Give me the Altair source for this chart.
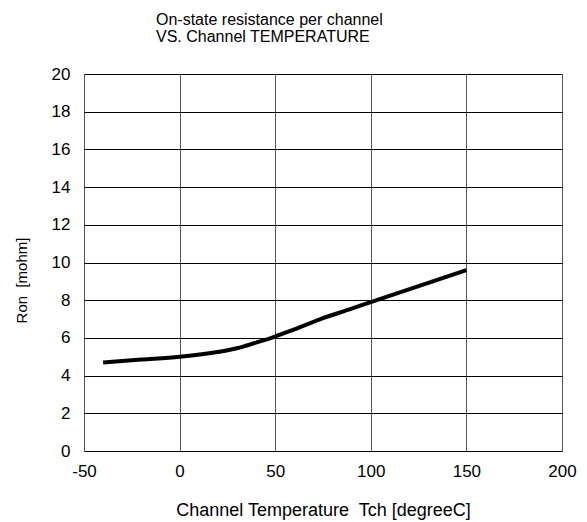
import altair as alt
import pandas as pd

temps = [-40, -20, 0, 20, 30, 40, 50, 60, 75, 90, 100, 125, 150]
ron = [4.70, 4.85, 5.00, 5.25, 5.45, 5.75, 6.07, 6.45, 7.05, 7.55, 7.90, 8.75, 9.60]

df = pd.DataFrame({"Tch": temps, "Ron": ron})

FONT = "Liberation Sans"

chart = alt.Chart(df).mark_line(
    color="black", strokeWidth=4, interpolate="monotone"
).encode(
    x=alt.X("Tch:Q",
            scale=alt.Scale(domain=[-50, 200], nice=False, zero=False),
            axis=alt.Axis(values=[-50, 0, 50, 100, 150, 200],
                          title="Channel Temperature\u00a0 Tch [degreeC]",
                          labelExpr="'' + datum.value", labelFlush=False,
                          grid=True, gridColor="#555555", gridWidth=1, gridOpacity=1,
                          ticks=False, domain=False, labelPadding=12,
                          labelFont=FONT, labelFontSize=17, labelColor="black",
                          titleFont=FONT, titleFontSize=18, titleFontWeight="normal",
                          titleColor="black", titlePadding=22)),
    y=alt.Y("Ron:Q",
            scale=alt.Scale(domain=[0, 20], nice=False, zero=False),
            axis=alt.Axis(values=list(range(0, 21, 2)), title="Ron\u00a0 [mohm]",
                          labelExpr="'' + datum.value",
                          grid=True, gridColor="black", gridWidth=1, gridOpacity=1,
                          ticks=False, domain=False, labelPadding=14,
                          labelFont=FONT, labelFontSize=17, labelColor="black",
                          titleFont=FONT, titleFontSize=15, titleFontWeight="normal",
                          titleColor="black", titlePadding=22, titleY=206)),
).properties(
    width=478,
    height=377,
    title=alt.TitleParams(
        text=["On-state  resistance per channel", "VS. Channel TEMPERATURE"],
        anchor="start", frame="group", dx=72, font=FONT, fontSize=16, fontWeight="normal",
        color="black", lineHeight=17, offset=20,
    ),
    autosize=alt.AutoSizeParams(type="none"),
    padding={"left": 76, "top": 66, "right": 17, "bottom": 70},
).configure_view(
    stroke="black", strokeWidth=3.5
).configure(background="white")

chart.save("out.html", embed_options={"renderer": "svg", "actions": False})
